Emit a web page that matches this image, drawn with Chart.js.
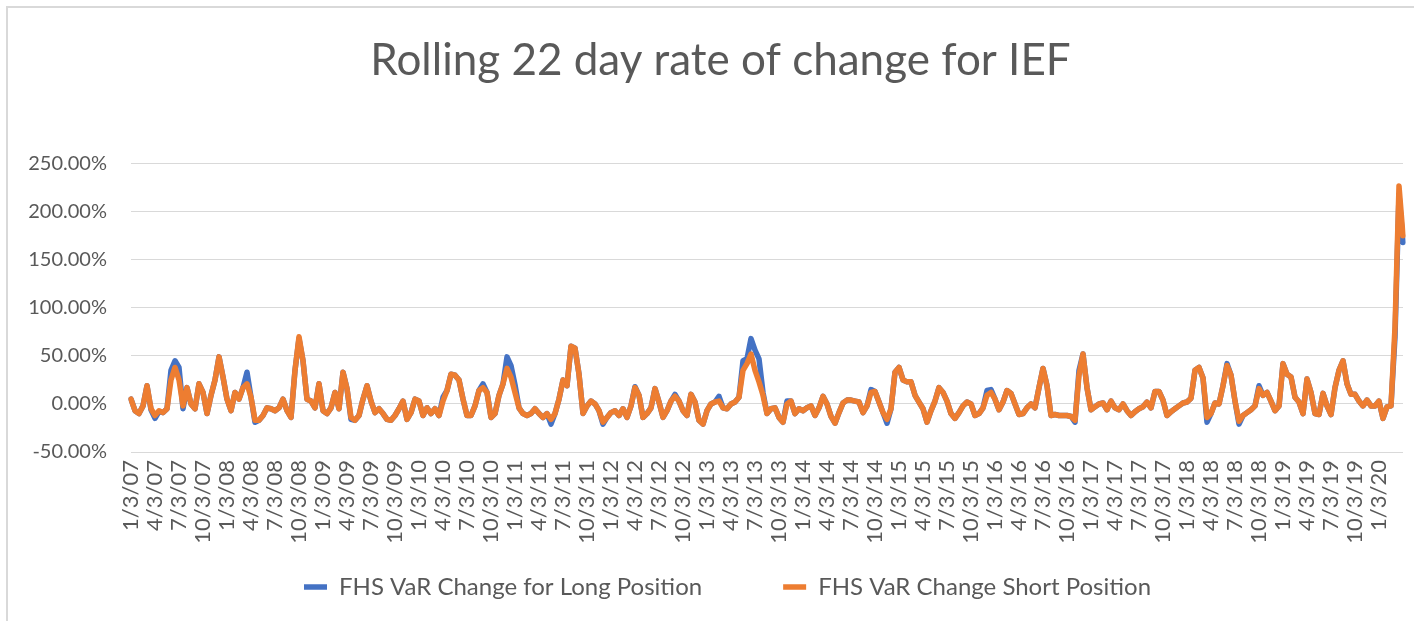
<!DOCTYPE html>
<html>
<head>
<meta charset="utf-8">
<script src="https://cdn.jsdelivr.net/npm/chart.js@4/dist/chart.umd.min.js"></script>
<style>
    html, body { margin: 0; padding: 0; background: #ffffff; }
    #frame {
        position: absolute; left: 6px; top: 6px; width: 1410px; height: 617px;
        border-top: 2px solid #d9d9d9; border-left: 2px solid #d9d9d9;
    }
    #wrap { position: absolute; left: 0; top: 0; width: 1414px; height: 621px; }
</style>
</head>
<body>
<div id="frame"></div>
<div id="wrap"><canvas id="rocChart" width="1414" height="621"></canvas></div>
<script>
// quarter tick labels, one every 6 points (about 10 trading days per point)
const quarterLabels = [
    '1/3/07', '4/3/07', '7/3/07', '10/3/07',
    '1/3/08', '4/3/08', '7/3/08', '10/3/08',
    '1/3/09', '4/3/09', '7/3/09', '10/3/09',
    '1/3/10', '4/3/10', '7/3/10', '10/3/10',
    '1/3/11', '4/3/11', '7/3/11', '10/3/11',
    '1/3/12', '4/3/12', '7/3/12', '10/3/12',
    '1/3/13', '4/3/13', '7/3/13', '10/3/13',
    '1/3/14', '4/3/14', '7/3/14', '10/3/14',
    '1/3/15', '4/3/15', '7/3/15', '10/3/15',
    '1/3/16', '4/3/16', '7/3/16', '10/3/16',
    '1/3/17', '4/3/17', '7/3/17', '10/3/17',
    '1/3/18', '4/3/18', '7/3/18', '10/3/18',
    '1/3/19', '4/3/19', '7/3/19', '10/3/19',
    '1/3/20'
];
const pointsPerQuarter = 6;

const seriesNames = ['FHS VaR Change for Long Position', 'FHS VaR Change Short Position'];

// values in percent
const longPosition = [
    5, -7, -10, -2, 19, -6, -15, -8, -9, -5,
    35, 45, 38, -5, 17, 0, -5, 21, 12, -10,
    9, 25, 49, 28, 5, -7, 12, 5, 17, 33,
    7, -19, -17, -12, -4, -5, -7, -4, 5, -7,
    -14, 35, 68, 45, 5, 3, -4, 21, -7, -10,
    -4, 12, -5, 33, 16, -16, -17, -12, 5, 19,
    3, -9, -5, -10, -16, -17, -12, -5, 3, -16,
    -9, 5, 3, -12, -4,
    -10, -5, -12, 7, 14, 31, 30, 25, 5, -12,
    -12, -2, 14, 21, 12, -14, -10, 9, 21, 49,
    40, 20, -4, -10, -12, -10, -5, -10, -14, -10,
    -21, -10, 5, 25, 19, 60, 58, 31, -10, -2,
    3, 0, -7, -21, -14, -9, -7, -12, -5, -14,
    -2, 18, 9, -14, -10, -4, 16, 2, -14, -7,
    3, 10, 3, -7, -12, 10, 2, -17, -21, -7,
    0, 2, 8, -4, -5, 0, 2, 7, 45,
    47, 68, 56, 47, 12, -10, -5, -4, -14, -19,
    3, 3, -10, -5, -7, -4, -2, -12, -4, 8,
    0, -13, -20, -9, 1, 4, 4, 3, 2, -9,
    -2, 15, 13, 2, -9, -20, -5, 33, 38, 25,
    23, 23, 9, 2, -5, -19, -7, 3, 17, 12,
    3, -10, -15, -9, -2, 2, 0, -12, -10, -4,
    14, 15, 5, -6, 2, 14, 11, 0, -11, -10,
    -4, 0, -4, 17, 37, 19, -12, -11, -12, -12,
    -12, -13,
    -19, 35, 52, 17, -6, -3, 0, 1, -6, 3,
    -4, -6, 0, -7, -12, -8, -5, -3, 2, -4,
    13, 13, 4, -12, -8, -5, -2, 1, 2, 6,
    35, 38, 27, -19, -10, 1, 0, 19, 42, 30,
    3, -21, -12, -9, -6, -2, 19, 9, 12, 3,
    -7, -2, 42, 31, 28, 7, 2, -10, 26, 12,
    -10, -11, 11, -2, -11, 17, 35, 45, 21, 10,
    10, 3, -2, 4, -2, -2, 3, -15, -3, -2,
    70, 218, 168
];

const shortPosition = [
    5, -7, -10, -2, 19, -5, -12, -7, -9, -5,
    25, 38, 25, -2, 17, 0, -5, 21, 12, -10,
    9, 25, 49, 28, 5, -7, 12, 5, 17, 21,
    7, -17, -17, -12, -4, -5, -7, -4, 5, -7,
    -14, 35, 70, 45, 5, 3, -4, 21, -7, -10,
    -4, 12, -5, 33, 16, -14, -17, -12, 5, 19,
    3, -9, -5, -10, -16, -17, -12, -5, 3, -16,
    -9, 5, 3, -12, -4,
    -10, -5, -12, 3, 14, 31, 30, 25, 5, -12,
    -12, -2, 14, 17, 12, -14, -10, 9, 21, 37,
    28, 12, -4, -10, -12, -10, -5, -10, -14, -10,
    -16, -10, 5, 25, 19, 60, 58, 31, -10, -2,
    3, 0, -7, -19, -14, -9, -7, -12, -5, -14,
    -2, 17, 9, -14, -10, -4, 16, 2, -14, -7,
    3, 8, 3, -7, -12, 10, 2, -17, -21, -7,
    0, 2, 3, -4, -5, 0, 2, 7, 35,
    42, 52, 35, 23, 9, -10, -5, -4, -14, -19,
    0, 3, -10, -5, -7, -4, -2, -12, -4, 8,
    0, -13, -20, -9, 1, 4, 4, 3, 2, -9,
    -2, 12, 13, 2, -9, -16, -5, 33, 38, 25,
    23, 23, 9, 2, -5, -19, -7, 3, 17, 12,
    3, -10, -15, -9, -2, 2, 0, -12, -10, -4,
    9, 12, 5, -6, 2, 14, 11, 0, -11, -10,
    -4, 0, -4, 17, 37, 19, -12, -11, -12, -12,
    -12, -13,
    -17, 30, 52, 17, -6, -3, 0, 1, -6, 3,
    -4, -6, 0, -7, -12, -8, -5, -3, 2, -4,
    13, 13, 4, -12, -8, -5, -2, 1, 2, 6,
    35, 38, 27, -14, -10, 1, 0, 19, 40, 30,
    3, -18, -12, -9, -6, -2, 16, 9, 12, 3,
    -7, -2, 42, 31, 28, 7, 2, -10, 26, 12,
    -10, -11, 11, -2, -11, 17, 35, 45, 21, 10,
    10, 3, -2, 4, -2, -2, 3, -15, -3, -2,
    80, 227, 175
];

const yMin = -50, yMax = 250, yStep = 50;

const pointLabels = shortPosition.map((v, i) =>
    i % pointsPerQuarter === 0 ? (quarterLabels[i / pointsPerQuarter] || '') : '');

const textGrey = '#595959';
const fontFamily = 'Lato, "Open Sans", sans-serif';
const legendGap = 81;

// excel centres title and legend a bit right of the canvas middle,
// and the wide legend gap must not eat into the plot height
const boxShift = {
    id: 'boxShift',
    afterLayout(chart) {
        const t = chart.titleBlock;
        t.left += 19; t.right += 19;
        const lg = chart.legend;
        lg.left += 26; lg.right += 26;
        lg.top -= legendGap - 10;   // bottom stays, so the legend clip box still holds the items
    }
};

const ctx = document.getElementById('rocChart').getContext('2d');
new Chart(ctx, {
    type: 'line',
    data: {
        labels: pointLabels,
        datasets: [{
            label: seriesNames[0],
            data: longPosition,
            borderColor: '#4472c4',
            backgroundColor: '#4472c4',
            borderWidth: 5.5,
            borderCapStyle: 'round',
            borderJoinStyle: 'round',
            pointRadius: 0,
            tension: 0,
            order: 2
        }, {
            label: seriesNames[1],
            data: shortPosition,
            borderColor: '#ed7d31',
            backgroundColor: '#ed7d31',
            borderWidth: 5.5,
            borderCapStyle: 'round',
            borderJoinStyle: 'round',
            pointRadius: 0,
            tension: 0,
            order: 1
        }]
    },
    options: {
        responsive: false,
        animation: false,
        layout: {
            padding: { left: 0, right: 11, top: 0, bottom: 14 }
        },
        plugins: {
            title: {
                display: true,
                text: 'Rolling 22 day rate of change for IEF',
                color: textGrey,
                font: { family: fontFamily, size: 44, weight: 'normal' },
                padding: { top: 34, bottom: 77 }
            },
            legend: {
                position: 'bottom',
                maxHeight: 42,
                labels: {
                    color: textGrey,
                    font: { family: fontFamily, size: 24 },
                    usePointStyle: true,
                    pointStyle: 'line',
                    pointStyleWidth: 23,
                    padding: legendGap,
                    sort: (a, b) => a.datasetIndex - b.datasetIndex
                }
            },
            tooltip: { enabled: false }
        },
        scales: {
            x: {
                grid: { display: false, drawTicks: false },
                border: { display: false },
                ticks: {
                    autoSkip: false,
                    minRotation: 90,
                    maxRotation: 90,
                    padding: 8,
                    color: textGrey,
                    font: { family: fontFamily, size: 22 }
                },
                afterFit: (scale) => {
                    scale.height = 113;
                    scale.paddingLeft = 0;
                    scale.paddingRight = 0;
                }
            },
            y: {
                min: yMin,
                max: yMax,
                grid: { color: '#d9d9d9', lineWidth: 1, drawTicks: false },
                border: { display: false },
                ticks: {
                    stepSize: yStep,
                    padding: 24,
                    color: textGrey,
                    font: { family: fontFamily, size: 20 },
                    callback: (v) => v.toFixed(2) + '%'
                },
                afterFit: (scale) => { scale.width = 131; }
            }
        }
    },
    plugins: [boxShift]
});
</script>
</body>
</html>
